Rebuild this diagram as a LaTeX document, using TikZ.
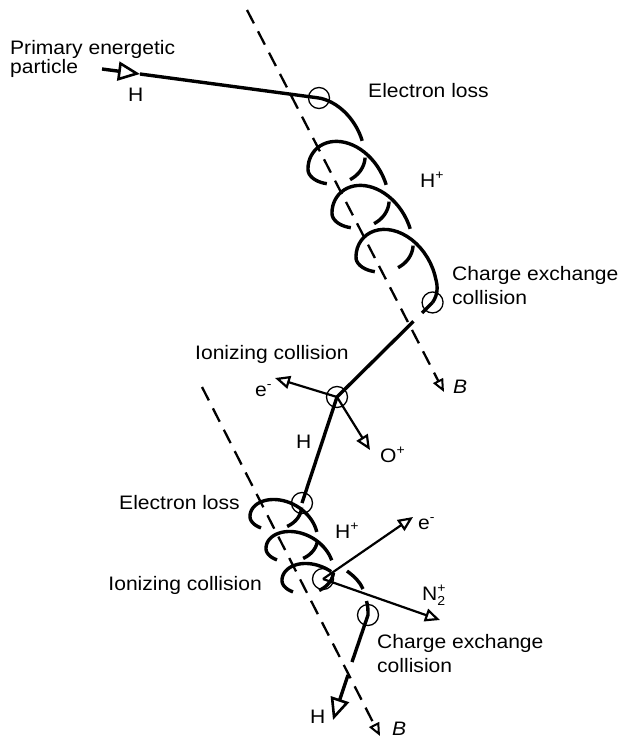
\documentclass[tikz,border=0pt]{standalone}
\usepackage{fontspec}
\setmainfont{Liberation Sans}[FakeStretch=1.08]
\usetikzlibrary{arrows.meta,calc}
\tikzset{
  thk/.style={line width=3.4pt},
  thn/.style={line width=2.2pt},
  markcirc/.style={circle, draw, line width=1.3pt, minimum size=21pt, inner sep=0pt},
  bline/.style={line width=2.3pt, dash pattern=on 15pt off 9pt},
  lbl/.style={anchor=base west, inner sep=0pt, font=\fontsize{19.5}{23}\selectfont},
  opentri/.style={-{Triangle[open, length=15pt, width=13pt, line width=2.2pt]}},
  bigtri/.style={-{Triangle[open, length=22pt, width=19pt, line width=2.6pt]}},
  btri/.style={-{Triangle[open, length=13pt, width=11pt, line width=2pt]}},
}
\newcommand\uhx[1]{348+((#1)/360-1)*24+34*sin(#1)-5*cos(#1)}
\newcommand\uhy[1]{181+((#1)/360-1)*44-(cos(#1)>0?39:24)*cos(#1)}
\newcommand\lhx[1]{283.5+(#1)/360*16+29.5*sin(#1)-3.5*cos(#1)}
\newcommand\lhy[1]{525+(#1)/360*32-(cos(#1)>0?25:20)*cos(#1)}
\newcommand\sups[1]{\raisebox{8pt}{\fontsize{13}{13}\selectfont #1}}
\begin{document}
\begin{tikzpicture}[x=1pt,y=-1pt]
\useasboundingbox (0,0) rectangle (627,741);
% field lines
\coordinate (b1s) at (247,10); \coordinate (b1e) at (444,392);
\coordinate (b2s) at (202,387); \coordinate (b2e) at (380,736);
\draw[bline, btri] (b1s) -- (b1e);
\draw[bline, btri] (b2s) -- (b2e);
% event circles
\coordinate (el1p) at ({\uhx{0}},{\uhy{0}});
\coordinate (cx1p) at ({\uhx{1215}},{\uhy{1215}});
\node[markcirc] (el1) at (el1p) {};
\node[markcirc] (cc1) at (cx1p) {};
\node[markcirc] (ion1) at (337,397) {};
\node[markcirc] (el2) at (302,503) {};
\node[markcirc] (ion2) at (323,579) {};
\node[markcirc] (cc2) at (368,615) {};
% incoming primary
\coordinate (in0) at (102,69); \coordinate (in1) at (140,74);
\draw[thk, bigtri] (in0) -- (in1);
\draw[thk] (in1) -- (el1.center);
% upper helix
\foreach \a/\b in {0/81,108/162,207/441,468/522,567/801,828/882,927/1215}{
  \draw[thk] plot[domain=\a:\b, samples=40, variable=\t] ({\uhx{\t}},{\uhy{\t}});
}
\draw[thk] (cc1.center) -- ($(cc1.center)!0.11!(ion1.center)$);
\draw[thk] ($(cc1.center)!0.2!(ion1.center)$) -- (ion1.center);
\draw[thk] (ion1.center) -- (el2.center);
% lower helix
\foreach \a/\b in {-255/-198,-140/88,108/162,220/441,468/522,580/755}{
  \draw[thk] plot[domain=\a:\b, samples=40, variable=\t] ({\lhx{\t}},{\lhy{\t}});
}
\coordinate (la1) at (347,571); \coordinate (la2) at (363,589);
\coordinate (la3) at (366.5,601);
\draw[thk] (la1) .. controls (355,577) and (360,582) .. (la2);
\coordinate (g1) at (352,662); \coordinate (g2) at (348,675);
\coordinate (h2) at (333,720);
\draw[thk] (la3) .. controls (368,606) and (368,610) .. (cc2.center) -- (g1);
\draw[thk, bigtri] (g2) -- (h2);
% secondary products
\coordinate (em1) at (275,378); \coordinate (op1) at (370,450);
\coordinate (em2) at (413,517); \coordinate (np2) at (440,620);
\draw[thn, opentri] (ion1.center) -- (em1);
\draw[thn, opentri] (ion1.center) -- (op1);
\draw[thn, opentri] (ion2.center) -- (em2);
\draw[thn, opentri] (ion2.center) -- (np2);
% labels
\node[lbl] (t1) at (10,55) {Primary energetic};
\node[lbl] (t2) at (10,74) {particle};
\node[lbl] (t3) at (128,102) {H};
\node[lbl] (t4) at (368,98) {Electron loss};
\node[lbl] (t5) at (420,187) {H\sups{+}};
\node[lbl] (t6) at (452,280) {Charge exchange};
\node[lbl] (t7) at (452,304) {collision};
\node[lbl] (t8) at (195,359) {Ionizing collision};
\node[lbl] (t9) at (255,396) {e\sups{-}};
\node[lbl] (t10) at (453,393) {\itshape B};
\node[lbl] (t11) at (296,448) {H};
\node[lbl] (t12) at (380,462) {O\sups{+}};
\node[lbl, anchor=base east] (t13) at (240,509) {Electron loss};
\node[lbl] (t14) at (335,538) {H\sups{+}};
\node[lbl] (t15) at (418,529) {e\sups{-}};
\node[lbl, anchor=base east] (t16) at (262,590) {Ionizing collision};
\node[lbl] (t17) at (422,600) {N\rlap{\raisebox{8pt}{\fontsize{13}{13}\selectfont +}}\raisebox{-5pt}{\fontsize{13}{13}\selectfont 2}};
\node[lbl] (t18) at (377,648) {Charge exchange};
\node[lbl] (t19) at (377,672) {collision};
\node[lbl] (t20) at (310,723) {H};
\node[lbl] (t21) at (392,735) {\itshape B};
\end{tikzpicture}
\end{document}
